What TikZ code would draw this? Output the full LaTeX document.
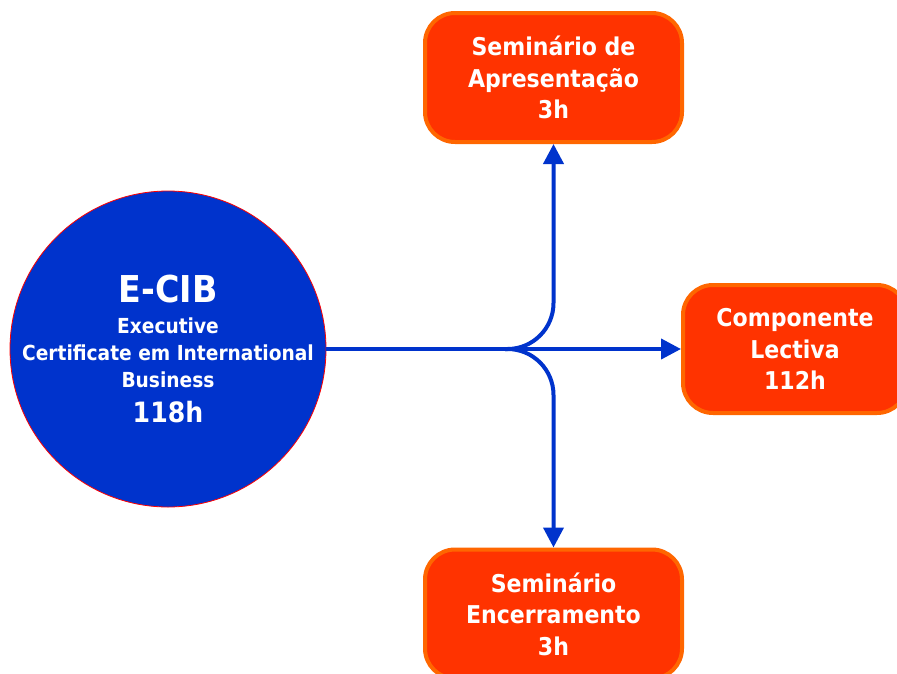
\documentclass[tikz,border=0pt]{standalone}
\usepackage{fontspec}
\setmainfont{DejaVu Sans Condensed}
\usetikzlibrary{arrows.meta}
\definecolor{circblue}{HTML}{0033CC}
\definecolor{lineblue}{HTML}{0033CC}
\definecolor{boxfill}{HTML}{FF3300}
\definecolor{boxedge}{HTML}{FF6600}
\begin{document}
\begin{tikzpicture}[x=1pt,y=-1pt,
  box/.style={draw=boxedge, fill=boxfill, line width=4pt, rounded corners=30pt,
    minimum width=257pt, minimum height=129pt, text=white, inner sep=0pt,
    font=\bfseries\fontsize{24.5}{31.5}\selectfont, align=center},
  ctext/.style={text=white, anchor=base, inner sep=0pt},
  conn/.style={draw=lineblue, line width=4pt},
  tip/.style={-{Triangle[length=20pt,width=20pt]}}]
\useasboundingbox (0,0) rectangle (897,673);
\node[circle, fill=circblue, draw=red, line width=0.8pt, minimum size=316pt, inner sep=0pt] (ecib) at (168,349) {};
\node[ctext, font=\bfseries\fontsize{37}{37}\selectfont] (t1) at (168,302) {E-CIB};
\node[ctext, font=\bfseries\fontsize{20.7}{20.7}\selectfont] (t2) at (168,333) {Executive};
\node[ctext, font=\bfseries\fontsize{20.7}{20.7}\selectfont] (t3) at (168,360) {Certificate em International};
\node[ctext, font=\bfseries\fontsize{20.7}{20.7}\selectfont] (t4) at (168,387) {Business};
\node[ctext, font=\bfseries\fontsize{28}{28}\selectfont] (t5) at (168,422) {118h};
\node[box] (sem1) at (553.5,77.5) {Seminário de\\Apresentação\\3h};
\node[box, minimum width=224pt, minimum height=128pt] (lect) at (795,349) {Componente\\Lectiva\\112h};
\node[box] (sem2) at (553.5,614) {Seminário\\Encerramento\\3h};
\coordinate (j) at (505,349);
\draw[conn, tip] (ecib.east) -- (lect.west);
\draw[conn, tip, rounded corners=46pt] (j) -| (sem1.south);
\draw[conn, tip, rounded corners=46pt] (j) -| (sem2.north);
\end{tikzpicture}
\end{document}
